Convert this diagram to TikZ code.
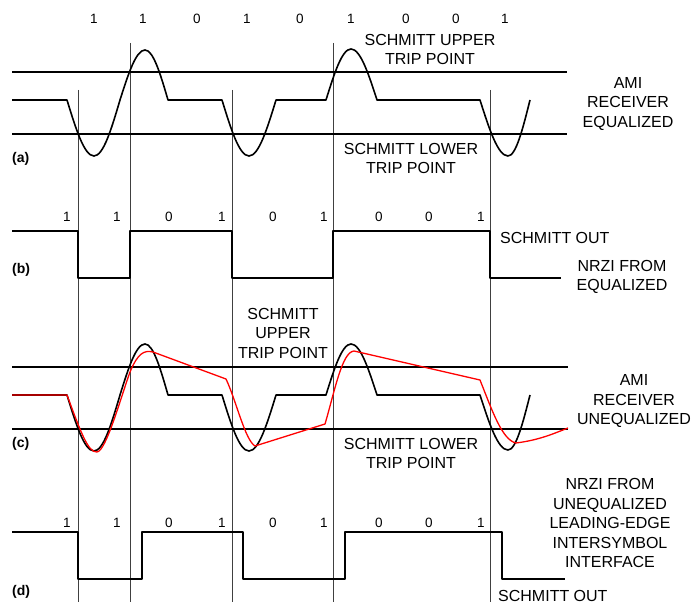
\documentclass[tikz,border=0pt]{standalone}
\usepackage{fontspec}
\setmainfont{Liberation Sans}
\begin{document}
\begin{tikzpicture}[
	x=1pt, y=-1pt,
	every node/.style={inner sep=0pt, font=\fontsize{16}{19.5}\selectfont},
	wavepath/.style={line width=1.6pt, line join=round},
	redpath/.style={line width=1.3pt, red, line join=round},
	tripline/.style={line width=1.4pt},
	clockline/.style={line width=0.8pt, black!75},
	bitlabel/.style={font=\fontsize{13.5}{15}\selectfont},
	sidelabel/.style={align=center},
	partlabel/.style={anchor=west, font=\fontsize{14}{16}\selectfont\bfseries},
]
\useasboundingbox (0,0) rectangle (697,604);

% clock edges
\draw[clockline] (78,90) -- (78,602);
\draw[clockline] (130,43) -- (130,602);
\draw[clockline] (232,90) -- (232,602);
\draw[clockline] (333,43) -- (333,602);
\draw[clockline] (490,90) -- (490,602);

% bit values
\foreach \bx/\bv [count=\i] in {94/1,143/1,197/0,247/1,300/0,351/1,406/0,456/0,505/1}
	\node[bitlabel] (topbit\i) at (\bx,19) {\bv};
\foreach \bx/\bv [count=\i] in {67/1,117/1,169/0,222/1,273/0,324/1,379/0,429/0,481/1} {
	\node[bitlabel] (bbit\i) at (\bx,217) {\bv};
	\node[bitlabel] (dbit\i) at (\bx,523) {\bv};
}

% (a) equalized AMI
\draw[tripline] (12,72) -- (567,72);
\draw[tripline] (12,134) -- (567,134);
\draw[wavepath] (12,100) -- (67,100) sin (94,156) cos (120,100) sin (145,50) cos (168,100)
	-- (222,100) sin (249,156) cos (276,100) -- (326,100) sin (351,49) cos (377,100)
	-- (480,100) sin (508,156) cos (530,100);
\node[partlabel] (parta) at (12,159) {(a)};
\node[sidelabel] (uppera) at (430,49.5) {SCHMITT UPPER\\TRIP POINT};
\node[sidelabel] (lowera) at (411,158.5) {SCHMITT LOWER\\TRIP POINT};
\node[sidelabel] (amieq) at (628,104) {AMI\\RECEIVER\\EQUALIZED};

% (b) schmitt out, equalized
\draw[wavepath] (12,231) -- (78,231) -- (78,278) -- (130,278) -- (130,231) -- (232,231)
	-- (232,278) -- (333,278) -- (333,231) -- (490,231) -- (490,278) -- (561,278);
\node[partlabel] (partb) at (12,270) {(b)};
\node[anchor=west] (outb) at (500,238) {SCHMITT OUT};
\node[sidelabel] (nrzieq) at (622,277) {NRZI FROM\\EQUALIZED};

% (c) unequalized AMI
\draw[tripline] (12,367) -- (568,367);
\draw[tripline] (12,429) -- (568,429);
\begin{scope}[shift={(0,295)}]
\draw[wavepath] (12,100) -- (67,100) sin (94,156) cos (120,100) sin (145,49) cos (168,100)
	-- (222,100) sin (249,156) cos (276,100) -- (326,100) sin (351,49) cos (377,100)
	-- (480,100) sin (508,155) cos (530,100);
\end{scope}
\draw[redpath] (12,395) -- (67,395) .. controls (80,430) and (88,453) .. (97,452)
	.. controls (106,451) and (120,400) .. (130,372) .. controls (138,353) and (144,350) .. (153,352)
	-- (226,379) .. controls (236,400) and (245,440) .. (255,446)
	-- (325,424) .. controls (335,390) and (342,352) .. (354,351)
	-- (480,380) .. controls (492,410) and (502,440) .. (516,443)
	.. controls (540,440) and (555,433) .. (568,428);
\node[partlabel] (partc) at (12,444) {(c)};
\node[sidelabel] (upperc) at (283,333) {SCHMITT\\UPPER\\TRIP POINT};
\node[sidelabel] (lowerc) at (411,453.5) {SCHMITT LOWER\\TRIP POINT};
\node[sidelabel] (amiuneq) at (634,401.5) {AMI\\RECEIVER\\UNEQUALIZED};

% (d) schmitt out, unequalized
\draw[wavepath] (12,532) -- (78,532) -- (78,579) -- (142,579) -- (142,532) -- (243,532)
	-- (243,579) -- (345,579) -- (345,532) -- (502,532) -- (502,579) -- (565,579);
\node[partlabel] (partd) at (12,592) {(d)};
\node[sidelabel] (nrziuneq) at (610,523) {NRZI FROM\\UNEQUALIZED\\LEADING-EDGE\\INTERSYMBOL\\INTERFACE};
\node[anchor=west] (outd) at (498,595.5) {SCHMITT OUT};
\end{tikzpicture}
\end{document}
